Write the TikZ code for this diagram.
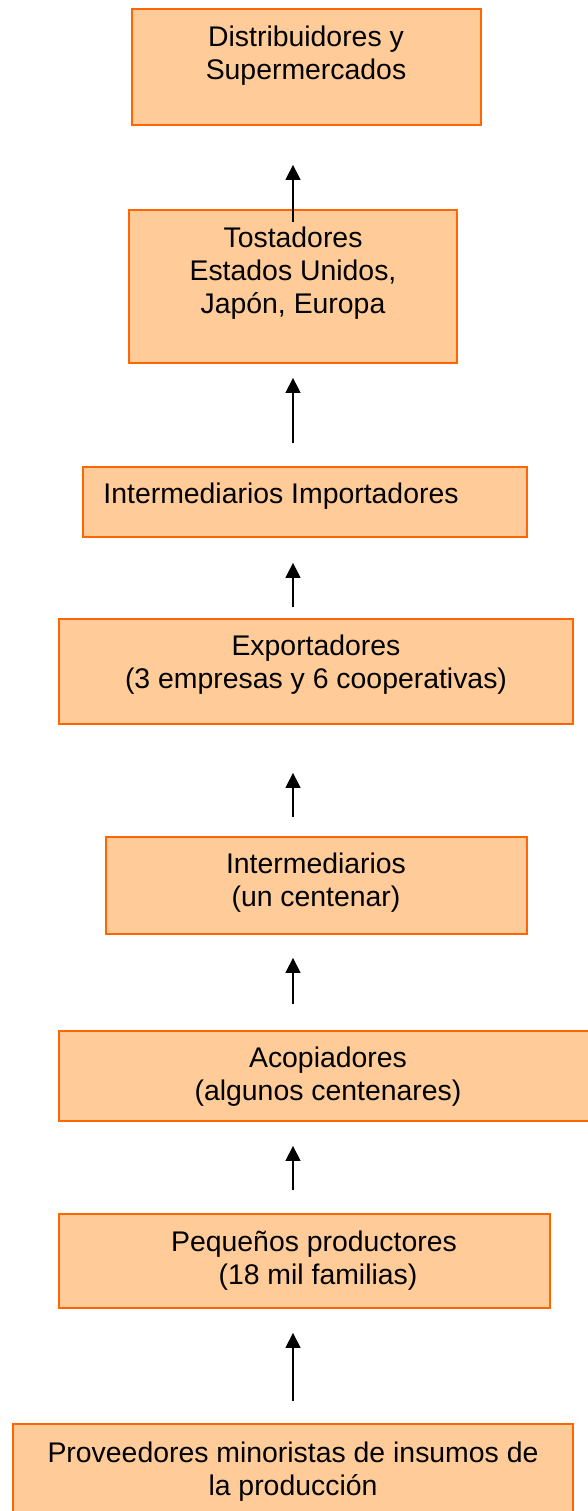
\documentclass[tikz,border=0pt]{standalone}
\usepackage{fontspec}
\setmainfont{Liberation Sans}
\usetikzlibrary{arrows.meta}
\definecolor{boxfill}{HTML}{FFCC99}
\definecolor{boxline}{HTML}{FF6600}
\tikzset{
  chainbox/.style={draw=boxline, fill=boxfill, line width=0.9pt, rectangle, inner sep=0pt},
  lbl/.style={anchor=base, inner sep=0pt, font=\fontsize{14.2pt}{16.5pt}\selectfont},
  arr/.style={-{Triangle[width=7.5pt,length=7.5pt]}, line width=0.75pt, black}
}
\begin{document}
\begin{tikzpicture}[x=0.5pt, y=-0.5pt]
\useasboundingbox (0,0) rectangle (588,1511);
% boxes
\node (b1) [chainbox, minimum width=174.5pt, minimum height=58pt] at (306.5,67) {};
\node (b2) [chainbox, minimum width=164pt, minimum height=76.5pt] at (293,286.5) {};
\node (b3) [chainbox, minimum width=222pt, minimum height=35pt] at (305,502) {};
\node (b4) [chainbox, minimum width=257pt, minimum height=52.5pt] at (316,671.5) {};
\node (b5) [chainbox, minimum width=210.5pt, minimum height=48.5pt] at (316.5,885.5) {};
\node (b6) [chainbox, minimum width=269pt, minimum height=45pt] at (328,1076) {};
\node (b7) [chainbox, minimum width=245.5pt, minimum height=47pt] at (304.5,1261) {};
\node (b8) [chainbox, minimum width=280pt, minimum height=47pt] at (293,1471) {};
% texts
\node (t1a) [lbl] at (306,46) {Distribuidores y};
\node (t1b) [lbl] at (306,79) {Supermercados};
\node (t2a) [lbl] at (293,247) {Tostadores};
\node (t2b) [lbl] at (293,280) {Estados Unidos,};
\node (t2c) [lbl] at (293,313) {Japón, Europa};
\node (t3a) [lbl] at (281,503) {Intermediarios Importadores};
\node (t4a) [lbl] at (316,655) {Exportadores};
\node (t4b) [lbl] at (316,688) {(3 empresas y 6 cooperativas)};
\node (t5a) [lbl] at (316,873) {Intermediarios};
\node (t5b) [lbl] at (316,906) {(un centenar)};
\node (t6a) [lbl] at (328,1067) {Acopiadores};
\node (t6b) [lbl] at (328,1100) {(algunos centenares)};
\node (t7a) [lbl] at (314,1251) {Pequeños productores};
\node (t7b) [lbl] at (318,1284) {(18 mil familias)};
\node (t8a) [lbl] at (293,1462) {Proveedores minoristas de insumos de};
\node (t8b) [lbl] at (293,1495) {la producción};
% arrows
\coordinate (ax) at (293,0);
\draw[arr, shorten <=-6.5pt, shorten >=19.5pt] (b2.north -| ax) -- (b1.south -| ax);
\draw[arr, shorten <=11.5pt, shorten >=7pt] (b3.north -| ax) -- (b2.south -| ax);
\draw[arr, shorten <=5.5pt, shorten >=12.5pt] (b4.north -| ax) -- (b3.south -| ax);
\draw[arr, shorten <=9.5pt, shorten >=24pt] (b5.north -| ax) -- (b4.south -| ax);
\draw[arr, shorten <=13pt, shorten >=11.5pt] (b6.north -| ax) -- (b5.south -| ax);
\draw[arr, shorten <=11.5pt, shorten >=12pt] (b7.north -| ax) -- (b6.south -| ax);
\draw[arr, shorten <=11pt, shorten >=12pt] (b8.north -| ax) -- (b7.south -| ax);
\end{tikzpicture}
\end{document}
